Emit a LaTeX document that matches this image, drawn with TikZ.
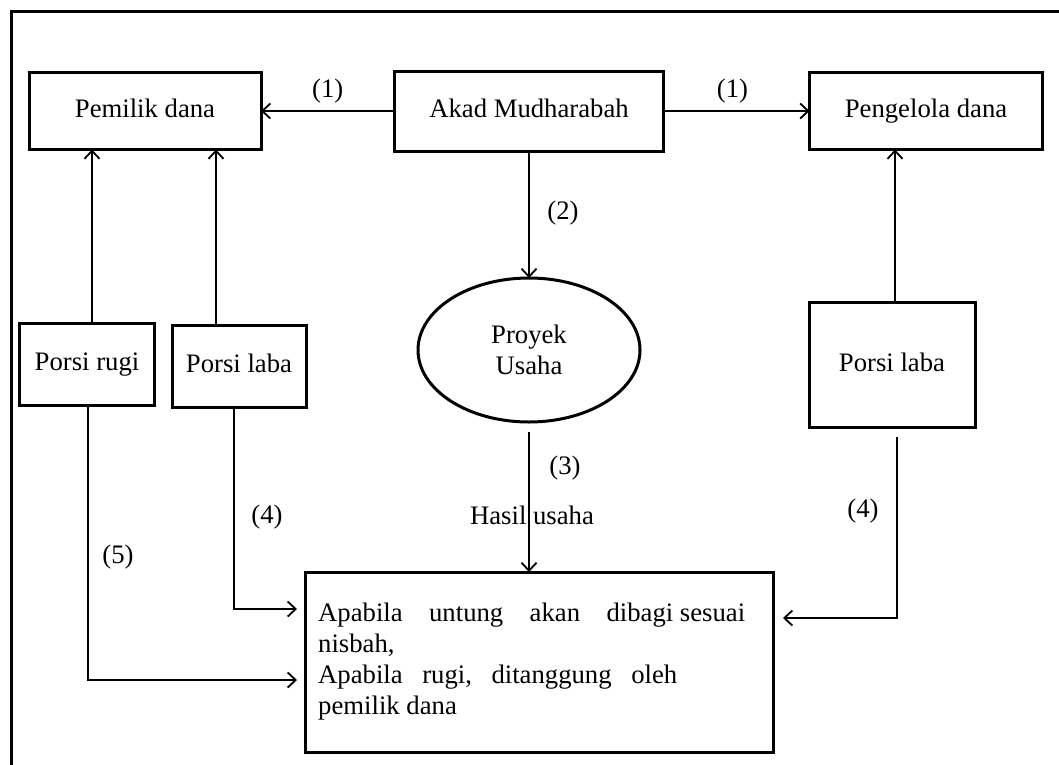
\documentclass[tikz,border=0pt]{standalone}
\usepackage{fontspec}
\setmainfont{Liberation Serif}
\usetikzlibrary{shapes.geometric, arrows.meta}

\begin{document}
\begin{tikzpicture}[x=1pt, y=-1pt,
    font=\fontsize{26.7}{31}\selectfont,
    box/.style={draw, line width=3pt, inner sep=0pt, outer sep=0pt},
    kotak/.style={box, text height=19pt, text depth=6pt},
    arrow/.style={line width=1.8pt, -{Straight Barb[length=8pt, width=15pt, line width=1.8pt]}}]
    \useasboundingbox (0,0) rectangle (1059,764);
    \fill[white] (0,0) rectangle (1059,764);

    % Frame
    \draw[line width=3pt] (11,770) -- (11,11) -- (1065,11);

    % Draw nodes
    \node[kotak, minimum width=232pt, minimum height=77pt] (pemilik) at (145,111) {Pemilik dana};
    \node[kotak, minimum width=269pt, minimum height=80pt] (akad) at (529,111) {Akad Mudharabah};
    \node[kotak, minimum width=233pt, minimum height=77pt] (pengelola) at (926,111) {Pengelola dana};
    \node[box, ellipse, minimum width=222pt, minimum height=144pt, align=center] (proyek) at (529,350) {Proyek\\Usaha};
    \node[kotak, minimum width=135pt, minimum height=82pt] (rugi) at (87,364) {Porsi rugi};
    \node[kotak, minimum width=134pt, minimum height=82pt] (labakiri) at (239,366) {Porsi laba};
    \node[kotak, minimum width=166pt, minimum height=125pt] (labakanan) at (892,365) {Porsi laba};
    \node[box, minimum width=468pt, minimum height=180pt] (hasil) at (539,662) {};
    \node[anchor=west, align=left, inner sep=0pt] (hasilteks) at (318,662)
        {\makebox[427pt][l]{Apabila\hfill untung\hfill akan\hfill dibagi sesuai}\\
         nisbah,\\
         \makebox[359pt][l]{Apabila\hfill rugi,\hfill ditanggung\hfill oleh}\\
         pemilik dana};

    % Draw connections
    \draw[arrow] (akad.west) -- (pemilik.east) node[midway, above=4pt] {(1)};
    \draw[arrow] (akad.east) -- (pengelola.west) node[midway, above=4pt, xshift=-4pt] {(1)};
    \draw[arrow] (akad.south) -- (proyek.north);
    \draw[arrow] ([yshift=-10pt]proyek.south) -- (proyek.south |- hasil.north);
    \draw[arrow] ([xshift=5pt]rugi.north) -- ([xshift=5pt]rugi.north |- pemilik.south);
    \draw[arrow] ([xshift=-23pt]labakiri.north) -- ([xshift=-23pt]labakiri.north |- pemilik.south);
    \draw[arrow, shorten >=8pt] ([xshift=1pt]rugi.south) |- ([yshift=-18pt]hasil.west);
    \draw[arrow, shorten >=8pt] ([xshift=-5pt]labakiri.south) |- ([yshift=53pt]hasil.west);
    \draw[arrow] ([xshift=3pt]labakanan.north) -- ([xshift=3pt]labakanan.north |- pengelola.south);
    \draw[arrow, shorten >=10pt] ([xshift=5pt, yshift=-9pt]labakanan.south) |- ([yshift=44pt]hasil.east);

    % Labels
    \node (lbldua) at (563,213) {(2)};
    \node (lbltiga) at (565,468) {(3)};
    \node (lblhasil) at (532,515) {Hasil usaha};
    \node (lblempatkiri) at (267,517) {(4)};
    \node (lbllima) at (118,557) {(5)};
    \node (lblempatkanan) at (863,511) {(4)};
\end{tikzpicture}
\end{document}
